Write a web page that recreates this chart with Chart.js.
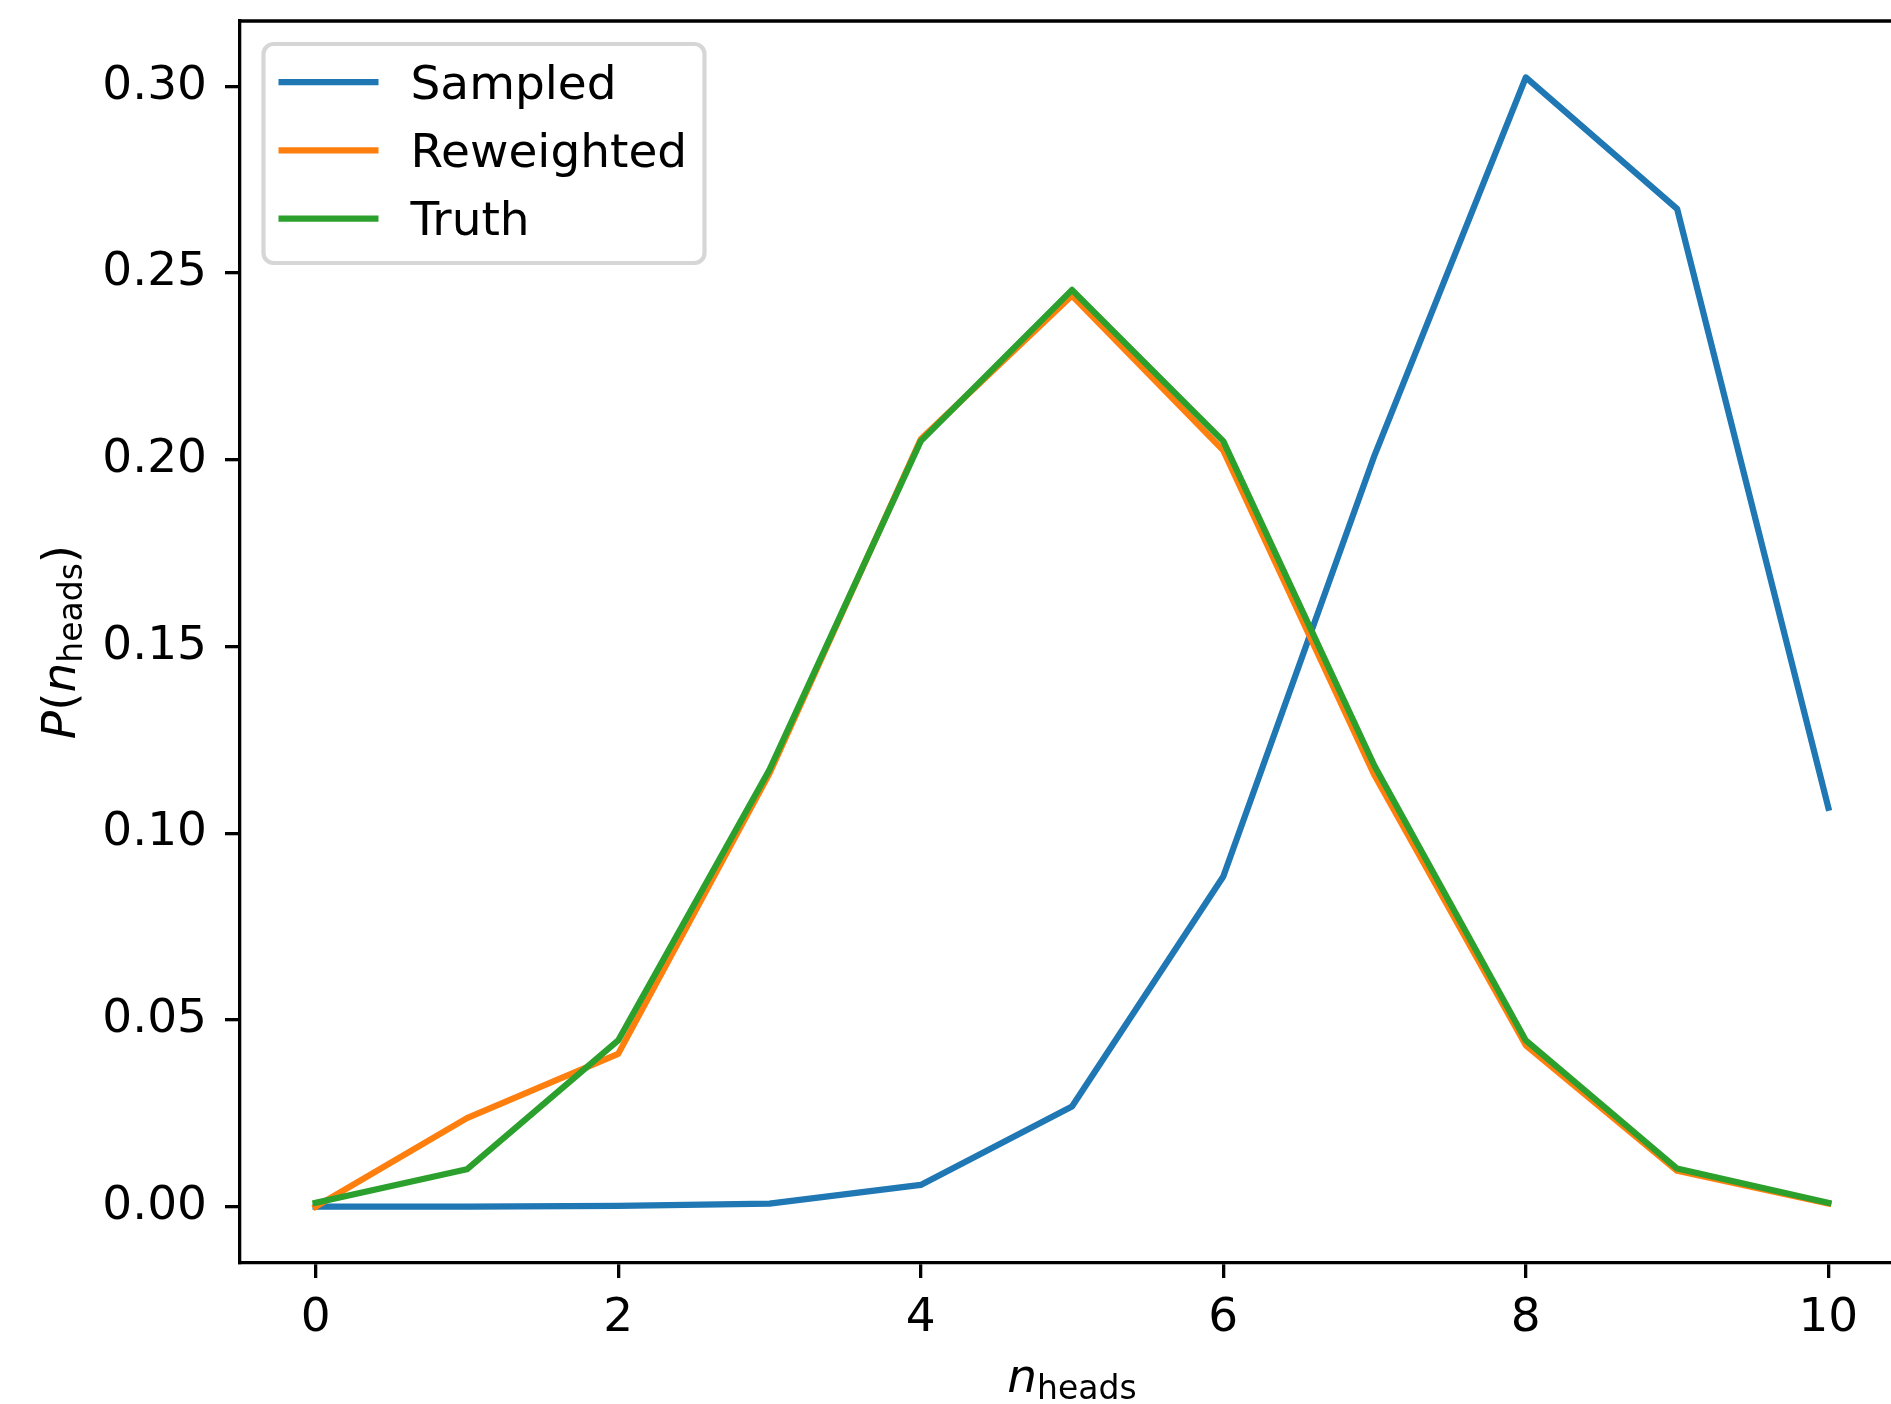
<!DOCTYPE html>
<html>
<head>
    <script src="https://cdn.jsdelivr.net/npm/chart.js"></script>
    <style>
        body { margin: 0; overflow: hidden; background: #fff; }
        .frame { width: 1891px; height: 1404px; overflow: hidden; }
    </style>
</head>
<body>
    <div class="frame">
        <canvas id="headsChart" width="1904" height="1404"></canvas>
    </div>

    <script>
        // number of heads in 10 coin flips
        const nHeads = [0, 1, 2, 3, 4, 5, 6, 7, 8, 9, 10];

        const sampled    = [0.0000, 0.0000, 0.0002, 0.0008, 0.0058, 0.0268, 0.0884, 0.2012, 0.3024, 0.2672, 0.1068];
        const reweighted = [0.0000, 0.0237, 0.0409, 0.1160, 0.2055, 0.2440, 0.2025, 0.1155, 0.0432, 0.0096, 0.0008];
        const truth      = [0.0010, 0.0100, 0.0445, 0.1170, 0.2050, 0.2455, 0.2050, 0.1180, 0.0445, 0.0102, 0.0010];

        const xTicks = [0, 2, 4, 6, 8, 10];
        const yTicks = [0.00, 0.05, 0.10, 0.15, 0.20, 0.25, 0.30];
    </script>
    <script>
        const FONT = "'DejaVu Sans'";
        const SIZE = 47;
        const SPINE = 3.3;

        const points = (ys) => nHeads.map((x, i) => ({ x: x, y: ys[i] }));

        const lineStyle = {
            borderWidth: 6.25,
            pointRadius: 0,
            tension: 0,
            fill: false,
            borderJoinStyle: 'round',
            borderCapStyle: 'square',
        };

        // draws pieces of text side by side, each with its own font and baseline shift
        function drawPieces(ctx, pieces, cx, baseY) {
            let total = 0;
            pieces.forEach(p => { ctx.font = p.font; p.w = ctx.measureText(p.text).width; total += p.w; });
            let x = cx - total / 2;
            ctx.textAlign = 'left';
            ctx.textBaseline = 'alphabetic';
            ctx.fillStyle = '#000';
            pieces.forEach(p => {
                ctx.font = p.font;
                ctx.fillText(p.text, x, baseY + (p.dy || 0));
                x += p.w;
            });
        }

        const mainFont = `${SIZE}px ${FONT}`;
        const italicFont = `italic ${SIZE}px ${FONT}`;
        const subFont = `${Math.round(SIZE * 0.7)}px ${FONT}`;

        const framePlugin = {
            id: 'frame',
            afterDraw(chart) {
                const ctx = chart.ctx;
                const area = chart.chartArea;
                ctx.save();

                // top spine
                ctx.strokeStyle = '#000';
                ctx.lineWidth = SPINE;
                ctx.lineCap = 'square';
                ctx.beginPath();
                ctx.moveTo(area.left, area.top);
                ctx.lineTo(area.right, area.top);
                ctx.stroke();

                // axis titles
                drawPieces(ctx, [
                    { text: 'n', font: italicFont },
                    { text: 'heads', font: subFont, dy: 7 },
                ], (area.left + area.right) / 2, area.bottom + 129);

                ctx.save();
                ctx.translate(75, (area.top + area.bottom) / 2);
                ctx.rotate(-Math.PI / 2);
                drawPieces(ctx, [
                    { text: 'P', font: italicFont },
                    { text: '(', font: mainFont },
                    { text: 'n', font: italicFont },
                    { text: 'heads', font: subFont, dy: 7 },
                    { text: ')', font: mainFont },
                ], 0, 0);
                ctx.restore();

                // legend box
                const bx = area.left + 23.5, by = area.top + 23, bw = 441, bh = 219, r = 10;
                ctx.beginPath();
                ctx.roundRect(bx, by, bw, bh, r);
                ctx.fillStyle = 'rgba(255, 255, 255, 0.8)';
                ctx.fill();
                ctx.strokeStyle = 'rgba(204, 204, 204, 0.8)';
                ctx.lineWidth = 4.2;
                ctx.stroke();

                ctx.font = mainFont;
                ctx.textAlign = 'left';
                ctx.textBaseline = 'alphabetic';
                chart.data.datasets.forEach((ds, i) => {
                    const rowY = area.top + 61 + i * 68.3;
                    ctx.strokeStyle = ds.borderColor;
                    ctx.lineWidth = ds.borderWidth;
                    ctx.lineCap = 'butt';
                    ctx.beginPath();
                    ctx.moveTo(bx + 15, rowY);
                    ctx.lineTo(bx + 115, rowY);
                    ctx.stroke();
                    ctx.fillStyle = '#000';
                    ctx.fillText(ds.label, bx + 147, rowY + 16.7);
                });

                ctx.restore();
            }
        };

        const tickGrid = {
            drawOnChartArea: false,
            drawTicks: true,
            tickLength: 15,
            lineWidth: SPINE,
            tickWidth: SPINE,
            tickColor: '#000',
        };

        const headsChart = new Chart('headsChart', {
            type: 'line',
            data: {
                datasets: [
                    { label: 'Sampled', data: points(sampled), borderColor: '#1f77b4', order: 3, ...lineStyle },
                    { label: 'Reweighted', data: points(reweighted), borderColor: '#ff7f0e', order: 2, ...lineStyle },
                    { label: 'Truth', data: points(truth), borderColor: '#2ca02c', order: 1, ...lineStyle },
                ],
            },
            options: {
                responsive: false,
                animation: false,
                devicePixelRatio: 1,
                layout: { padding: { top: 21, left: 0, right: 0, bottom: 0 } },
                plugins: {
                    legend: { display: false },
                    tooltip: { enabled: false },
                },
                scales: {
                    x: {
                        type: 'linear',
                        min: -0.5,
                        max: 10.5,
                        afterBuildTicks: (s) => { s.ticks = xTicks.map(v => ({ value: v })); },
                        afterFit: (s) => { s.height = 141; s.paddingLeft = 0; s.paddingRight = 0; },
                        ticks: {
                            font: { family: FONT, size: SIZE },
                            color: '#000',
                            padding: 13,
                            maxRotation: 0,
                            autoSkip: false,
                            callback: (v) => String(v),
                        },
                        grid: tickGrid,
                        border: { display: true, color: '#000', width: SPINE },
                    },
                    y: {
                        min: -0.0151,
                        max: 0.3175,
                        afterBuildTicks: (s) => { s.ticks = yTicks.map(v => ({ value: v })); },
                        afterFit: (s) => { s.width = 240; s.paddingTop = 0; s.paddingBottom = 0; },
                        ticks: {
                            font: { family: FONT, size: SIZE },
                            color: '#000',
                            padding: 18,
                            autoSkip: false,
                            callback: (v) => Number(v).toFixed(2),
                        },
                        grid: tickGrid,
                        border: { display: true, color: '#000', width: SPINE },
                    },
                },
            },
            plugins: [framePlugin],
        });
    </script>
</body>
</html>
